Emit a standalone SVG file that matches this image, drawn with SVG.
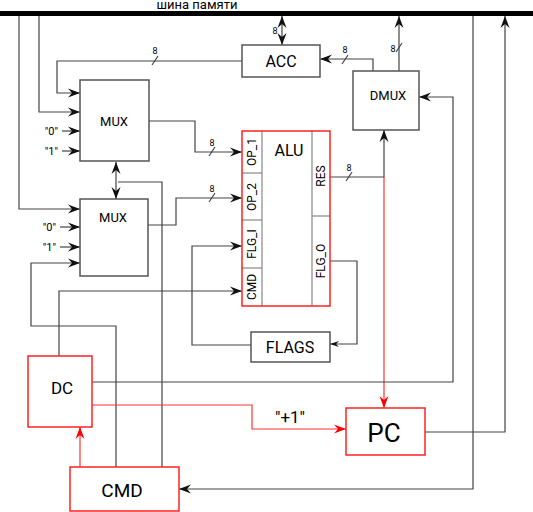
<svg xmlns="http://www.w3.org/2000/svg" width="533" height="512" viewBox="0 0 533 512">
<defs>
<marker id="a" markerUnits="userSpaceOnUse" markerWidth="12" markerHeight="9" refX="12" refY="4.5" orient="auto" overflow="visible">
<path d="M0,0 L12,4.5 L0,9 L4,4.5 Z" fill="#111"/>
</marker>
<marker id="as" markerUnits="userSpaceOnUse" markerWidth="12" markerHeight="9" refX="0" refY="4.5" orient="auto" overflow="visible">
<path d="M12,0 L0,4.5 L12,9 L8,4.5 Z" fill="#111"/>
</marker>
<marker id="sm" markerUnits="userSpaceOnUse" markerWidth="9" markerHeight="6" refX="9" refY="3" orient="auto" overflow="visible">
<path d="M0,0 L9,3 L0,6 L3,3 Z" fill="#111"/>
</marker>
<marker id="r" markerUnits="userSpaceOnUse" markerWidth="12" markerHeight="9" refX="12" refY="4.5" orient="auto" overflow="visible">
<path d="M0,0 L12,4.5 L0,9 L4,4.5 Z" fill="#f00"/>
</marker>
</defs>
<style>
.box{fill:#fff;stroke:#555;stroke-width:1.5}
.rbox{fill:#fff;stroke:#f22;stroke-width:1.5}
.ln{fill:none;stroke:#444;stroke-width:1.2}
.rl{fill:none;stroke:#f33;stroke-width:1.2}
.div{stroke:#888;stroke-width:1.2;fill:none}
text{font-family:Roboto,"Liberation Sans",sans-serif;fill:#000;text-anchor:middle}
.s{font-size:9px}
.q{font-size:11px;text-anchor:end}
</style>
<rect width="533" height="512" fill="#fff"/>
<text x="197" y="9" style="font-size:13px">шина памяти</text>
<line x1="0" y1="13.5" x2="533" y2="13.5" stroke="#000" stroke-width="5"/>

<g id="connectors">
<polyline class="ln" points="19,16 19,209 80,209" marker-end="url(#a)"/>
<polyline class="ln" points="39,16 39,112 80,112" marker-end="url(#a)"/>
<polyline class="ln" points="242,61 57,61 57,93 80,93" marker-end="url(#a)"/>
<line class="ln" x1="152" y1="65" x2="158" y2="56"/>
<text x="155" y="54" class="s">8</text>
<line class="ln" x1="62" y1="131" x2="80" y2="131" marker-end="url(#a)"/>
<line class="ln" x1="62" y1="151" x2="80" y2="151" marker-end="url(#a)"/>
<line class="ln" x1="60" y1="227" x2="80" y2="227" marker-end="url(#a)"/>
<line class="ln" x1="60" y1="247" x2="80" y2="247" marker-end="url(#a)"/>
<polyline class="ln" points="149,121 195,121 195,152 242,152" marker-end="url(#a)"/>
<line class="ln" x1="209" y1="156" x2="215" y2="147"/>
<text x="212" y="146" class="s">8</text>
<polyline class="ln" points="148,225 176,225 176,198 242,198" marker-end="url(#a)"/>
<line class="ln" x1="209" y1="202" x2="215" y2="193"/>
<text x="212" y="192" class="s">8</text>
<line class="ln" x1="116" y1="162" x2="116" y2="199" marker-start="url(#as)" marker-end="url(#a)"/>
<polyline class="ln" points="162,467 162,182 118,182"/>
<polyline class="ln" points="116,467 116,326 31,326 31,263 80,263" marker-end="url(#a)"/>
<polyline class="ln" points="59,356 59,291 242,291" marker-end="url(#a)"/>
<line class="ln" x1="282" y1="45" x2="282" y2="16" marker-start="url(#as)" marker-end="url(#a)"/>
<text x="275" y="34" class="s">8</text>
<polyline class="ln" points="373,71 373,59 320,59" marker-end="url(#a)"/>
<line class="ln" x1="342" y1="64" x2="348" y2="55"/>
<text x="345" y="53" class="s">8</text>
<line class="ln" x1="399" y1="71" x2="399" y2="16" marker-end="url(#a)"/>
<line class="ln" x1="396" y1="52" x2="402" y2="43"/>
<text x="393" y="52" class="s">8</text>
<polyline class="ln" points="330,177 384,177 384,130" marker-end="url(#a)"/>
<line class="ln" x1="346" y1="181" x2="352" y2="172"/>
<text x="349" y="171" class="s">8</text>
<line class="rl" x1="384" y1="177" x2="384" y2="408" marker-end="url(#r)"/>
<polyline class="ln" points="330,261 357,261 357,344 330,344" marker-end="url(#sm)"/>
<polyline class="ln" points="251,345 192,345 192,246 242,246" marker-end="url(#a)"/>
<polyline class="ln" points="92,382 453,382 453,97 419,97" marker-end="url(#a)"/>
<polyline class="rl" points="92,405 252,405 252,429 346,429" marker-end="url(#r)"/>
<text x="290" y="423" style="font-size:17px">"+1"</text>
<polyline class="ln" points="473,16 473,489 179,489" marker-end="url(#a)"/>
<polyline class="ln" points="423,432 505,432 505,16" marker-end="url(#a)"/>
<line class="rl" x1="80" y1="467" x2="80" y2="427" marker-end="url(#r)"/>
</g>

<g id="acc"><rect class="box" x="242" y="45" width="78" height="32"/><text x="281" y="67" style="font-size:16px">ACC</text></g>
<g id="mux1"><rect class="box" x="80" y="80" width="69" height="81"/><text x="114" y="126" style="font-size:13px">MUX</text></g>
<g id="mux2"><rect class="box" x="80" y="199" width="68" height="77"/><text x="113" y="222" style="font-size:13px">MUX</text></g>
<text x="58" y="135" class="q">"0"</text>
<text x="58" y="155" class="q">"1"</text>
<text x="56" y="231" class="q">"0"</text>
<text x="56" y="251" class="q">"1"</text>
<g id="dmux"><rect class="box" x="353" y="71" width="66" height="59"/><text x="388" y="100" style="font-size:13px">DMUX</text></g>
<g id="alu">
<rect x="242" y="131" width="88" height="175" fill="#fff" stroke="none"/>
<line class="div" x1="262" y1="131" x2="262" y2="306"/>
<line class="div" x1="312" y1="131" x2="312" y2="306"/>
<line class="div" x1="242" y1="173" x2="262" y2="173"/>
<line class="div" x1="242" y1="220" x2="262" y2="220"/>
<line class="div" x1="242" y1="268" x2="262" y2="268"/>
<line class="div" x1="312" y1="216" x2="330" y2="216"/>
<rect x="242" y="131" width="88" height="175" fill="none" stroke="#f22" stroke-width="1.5"/>
<text x="289" y="156" style="font-size:16px">ALU</text>
<text transform="translate(256,152) rotate(-90)" style="font-size:12px">OP_1</text>
<text transform="translate(256,197) rotate(-90)" style="font-size:12px">OP_2</text>
<text transform="translate(256,244) rotate(-90)" style="font-size:12px">FLG_I</text>
<text transform="translate(256,287) rotate(-90)" style="font-size:12px">CMD</text>
<text transform="translate(325,176) rotate(-90)" style="font-size:12px">RES</text>
<text transform="translate(325,261) rotate(-90)" style="font-size:12px">FLG_O</text>
</g>
<g id="flags"><rect class="box" x="251" y="332" width="79" height="30"/><text x="290" y="353" style="font-size:16px">FLAGS</text></g>
<g id="dc"><rect class="rbox" x="28" y="356" width="64" height="71"/><text x="62" y="394" style="font-size:17px">DC</text></g>
<g id="cmd"><rect class="rbox" x="70" y="467" width="109" height="44"/><text x="122" y="497" style="font-size:19px">CMD</text></g>
<g id="pc"><rect class="rbox" x="346" y="408" width="79" height="47"/><text x="384" y="442" style="font-size:26px">PC</text></g>
</svg>
